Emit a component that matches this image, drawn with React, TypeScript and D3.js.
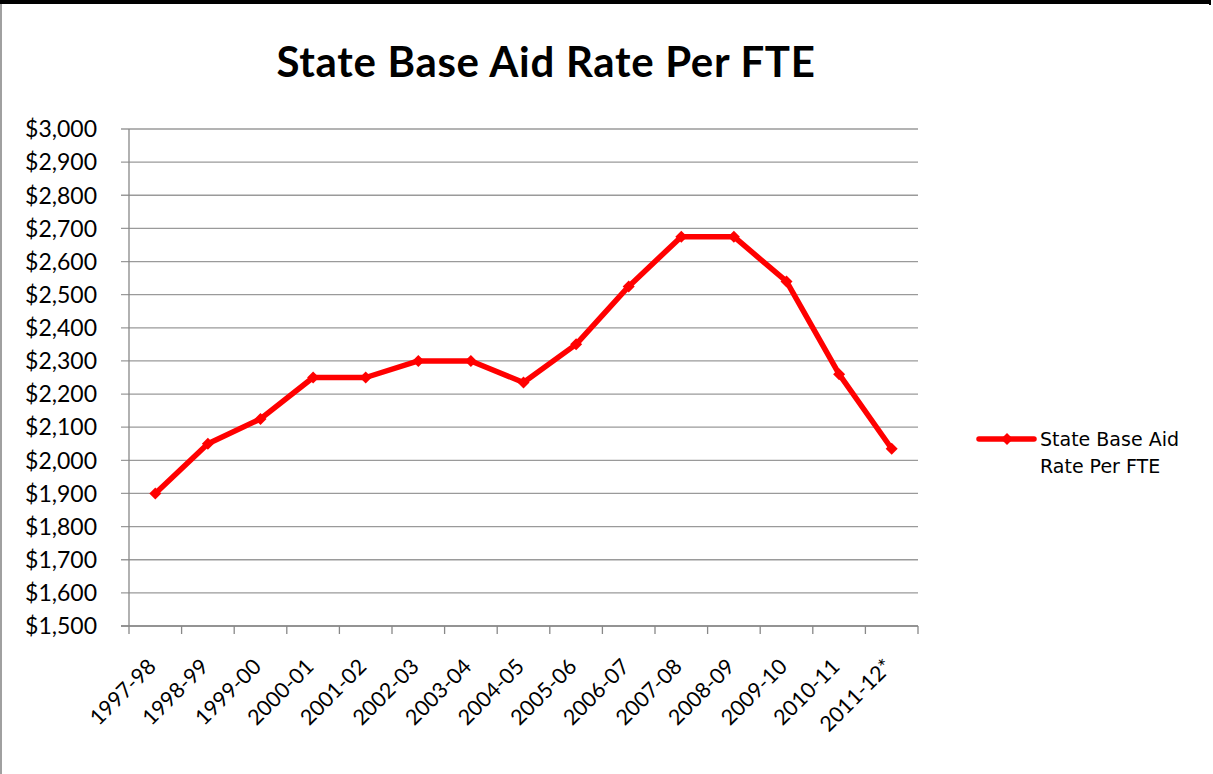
import React from "react";
import * as d3 from "d3";

const categories = ["1997-98","1998-99","1999-00","2000-01","2001-02","2002-03","2003-04","2004-05","2005-06","2006-07","2007-08","2008-09","2009-10","2010-11","2011-12*"];
const values = [1900, 2050, 2125, 2250, 2250, 2300, 2300, 2235, 2350, 2525, 2675, 2675, 2540, 2260, 2035];
const yTicks = d3.range(1500, 3001, 100);
const seriesName = ["State Base Aid", "Rate Per FTE"];
const title = "State Base Aid Rate Per FTE";

const W = 1213, H = 774;
const left = 129, right = 918, top = 129, bottom = 626;

export default function App() {
  const x = d3.scaleBand<string>().domain(categories).range([left, right]).paddingInner(0).paddingOuter(0);
  const y = d3.scaleLinear().domain([1500, 3000]).range([bottom, top]);
  const fmt = (v: number) => "$" + d3.format(",")(v);
  const cx = (c: string) => (x(c) as number) + x.bandwidth() / 2;
  const line = d3.line<number>().x((_, i) => cx(categories[i])).y((v) => y(v));
  const diamond = (px: number, py: number, r = 6) => `M${px},${py - r}L${px + r},${py}L${px},${py + r}L${px - r},${py}Z`;
  const red = "#ff0000";
  const boundaries = categories.map((c) => x(c) as number).concat([right]);

  return (
    <svg width={W} height={H} style={{ position: "absolute", left: 0, top: 0, display: "block", background: "#fff" }}>
      <rect x={0} y={0} width={W} height={H} fill="#fff" />
      {/* border */}
      <line x1={1} y1={0} x2={1} y2={H} stroke="#808080" strokeWidth={1.5} />
      <line x1={0} y1={2} x2={1211} y2={2} stroke="#000" strokeWidth={4} />
      <line x1={1210} y1={0} x2={1210} y2={5} stroke="#000" strokeWidth={2} />
      {/* title */}
      <text x={546} y={77} textAnchor="middle" fontFamily="Lato, 'Open Sans', sans-serif" fontWeight="bold" fontSize={42} letterSpacing={0.7} fill="#000">{title}</text>
      {/* gridlines */}
      {yTicks.map((t) => (
        <line key={t} x1={left - 8} x2={right} y1={y(t)} y2={y(t)} stroke="#9a9a9a" strokeWidth={1.3} />
      ))}
      {/* y labels */}
      {yTicks.map((t) => (
        <text key={"l" + t} x={97} y={y(t)} dy="0.36em" textAnchor="end" fontFamily="Lato, sans-serif" fontSize={23} fill="#000">{fmt(t)}</text>
      ))}
      {/* axes */}
      <line x1={left} x2={left} y1={top} y2={bottom} stroke="#888" strokeWidth={1.3} />
      <line x1={left - 8} x2={right} y1={bottom} y2={bottom} stroke="#888" strokeWidth={1.3} />
      {boundaries.map((b, i) => (
        <line key={"t" + i} x1={b} x2={b} y1={bottom} y2={bottom + 8} stroke="#888" strokeWidth={1.3} />
      ))}
      {/* x labels */}
      {categories.map((c) => (
        <text key={c} transform={`translate(${cx(c) + 2},${bottom + 42}) rotate(-45)`} textAnchor="end" fontFamily="Lato, sans-serif" fontSize={21.5} fill="#000">{c}</text>
      ))}
      {/* series */}
      <path d={line(values) || ""} fill="none" stroke={red} strokeWidth={5.5} strokeLinejoin="round" />
      {values.map((v, i) => (
        <path key={"m" + i} d={diamond(cx(categories[i]), y(v))} fill={red} />
      ))}
      {/* legend */}
      <line x1={979} x2={1034} y1={439} y2={439} stroke={red} strokeWidth={5.5} strokeLinecap="round" />
      <path d={diamond(1007, 439)} fill={red} />
      <text x={1040} y={446} fontFamily="'DejaVu Sans', sans-serif" fontSize={19} fill="#000">{seriesName[0]}</text>
      <text x={1040} y={473} fontFamily="'DejaVu Sans', sans-serif" fontSize={19} fill="#000">{seriesName[1]}</text>
    </svg>
  );
}
